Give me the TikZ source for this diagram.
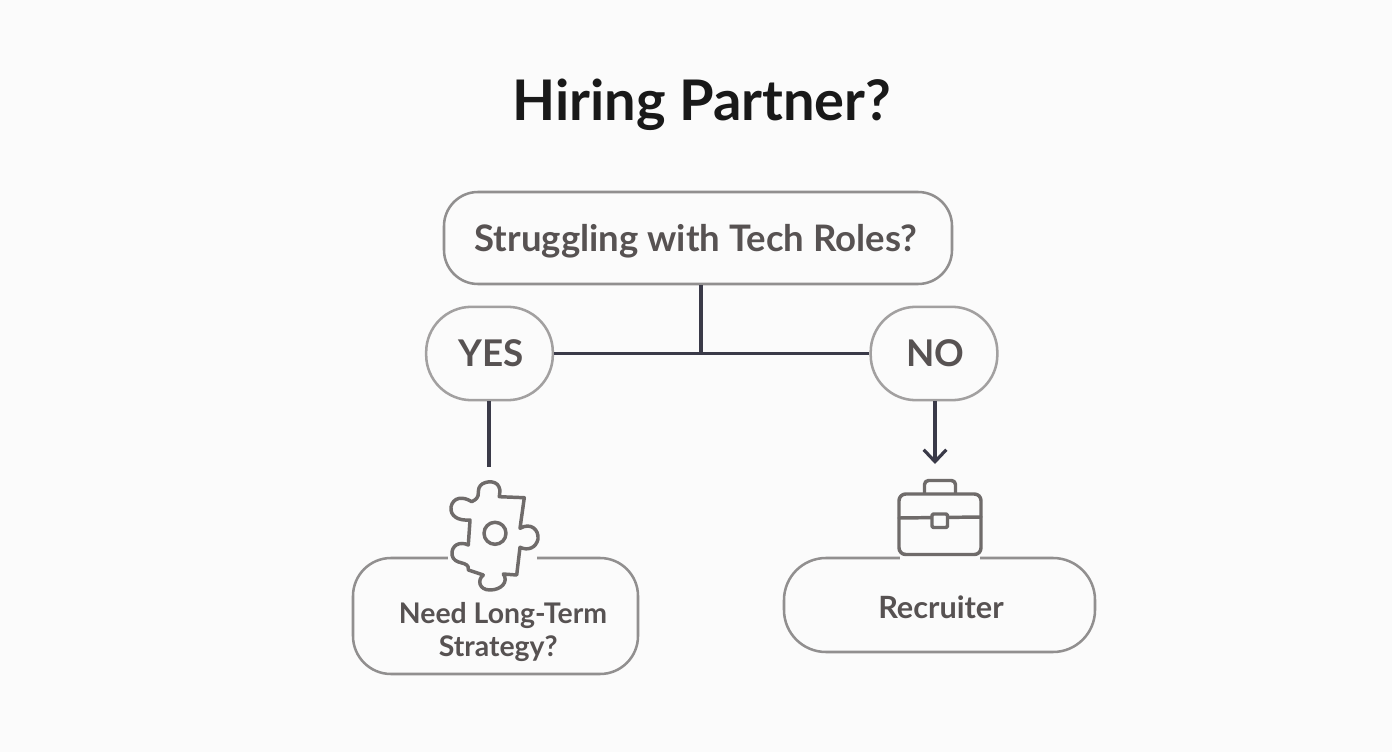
\documentclass[tikz,border=0pt]{standalone}
\usepackage{fontspec}
\setmainfont{Lato}
\usetikzlibrary{arrows.meta}
\definecolor{paper}{HTML}{FBFBFB}
\definecolor{inkdark}{HTML}{3A3A48}
\definecolor{inktext}{HTML}{575252}
\definecolor{edgegray}{HTML}{918F8F}
\definecolor{icongray}{HTML}{6F6B6A}
\begin{document}
\begin{tikzpicture}[x=0.75pt, y=-0.75pt, line join=round, line cap=round, >={Straight Barb[length=9pt, width=17pt]},
	box/.style={draw=edgegray, line width=1.9pt, fill=paper, text=inktext, font=\fontsize{27.6}{30}\selectfont\bfseries, inner sep=0pt},
	link/.style={draw=inkdark, line width=2.4pt, line cap=butt},
	icon/.style={draw=icongray, line width=2.6pt, fill=paper}]
	\useasboundingbox[fill=paper] (0,0) rectangle (1392,752);
	\node[font=\fontsize{42}{46}\selectfont\bfseries, text=black!90] (title) at (702,105) {Hiring Partner?};
	\node[box, minimum width=381pt, minimum height=69pt, rounded corners=25.5pt] (root) at (698,238) {};
	\node[text=inktext, font=\fontsize{27.4}{30}\selectfont\bfseries] (roottext) at (696,241) {Struggling with Tech Roles?};
	\node[box, draw=edgegray!85, minimum width=95pt, minimum height=70pt, rounded corners=34pt] (yes) at (489.5,353.5) {\hspace*{3pt}YES};
	\node[box, draw=edgegray!85, minimum width=95pt, minimum height=70pt, rounded corners=34pt] (no) at (934,353.5) {\hspace*{2pt}NO};
	\node[box, minimum width=213.75pt, minimum height=87pt, rounded corners=28.5pt] (need) at (495.5,616) {};
	\node[box, minimum width=233.25pt, minimum height=70.5pt, rounded corners=31.5pt] (recruiter) at (939.5,605) {};
	\node[text=inktext, font=\fontsize{23}{27}\selectfont\bfseries] (recruitertext) at (941,607) {Recruiter};
	\node[text=inktext, align=center, font=\fontsize{21.3}{24.7}\selectfont\bfseries] (needtext) at (503,632) {Need Long-Term\\Strategy?\hspace*{7pt}};
	\path
	(701,352)coordinate(fork)
	(489,467)coordinate(yesend)
	(935,464)coordinate(noend)
	;
	% connectors
	\draw[link] (root.south -| fork)--(fork) (yes.east)--(no.west);
	\draw[link] (yes.south -| yesend)--(yesend);
	\draw[link, ->] (no.south -| noend)--(noend);
	% gaps in the box borders
	\draw[draw=paper, line width=4pt, line cap=butt] (448,558)--(537,558) (900,558)--(980,558);
	% puzzle piece
	\draw[icon] (524.3,497.7)--(520,528.3)
		.. controls (531,522) and (539,530) .. (538,539)
		.. controls (536,548) and (528,551) .. (520,547.3)
		--(516.7,575)--(503.3,574)
		.. controls (509,582) and (501,590) .. (490,590)
		.. controls (479,590) and (477,580) .. (483.3,575)
		--(468.3,570)
		.. controls (470,560) and (454,566) .. (452,555)
		.. controls (451,545) and (460,541) .. (468.3,545)
		--(470,520)
		.. controls (458,521) and (450,516) .. (451,507)
		.. controls (453,497) and (463,496) .. (471.7,501.7)
		.. controls (481,497) and (477,495) .. (479,488)
		.. controls (481,481) and (496,479) .. (499,487)
		.. controls (501,491) and (499,494) .. (499.3,496.7)
		--cycle;
	\draw[icon] (495,533.3) circle (11);
	% briefcase
	\draw[icon, rounded corners=3pt] (924.5,494)--(924.5,480.5)--(955.5,480.5)--(955.5,494);
	\draw[icon, rounded corners=5pt] (899,494) rectangle (981,554.5);
	\draw[icon, fill=none] (899,518)--(981,517);
	\draw[icon, rounded corners=1pt] (932,514) rectangle (947.5,527.5);
\end{tikzpicture}
\end{document}
